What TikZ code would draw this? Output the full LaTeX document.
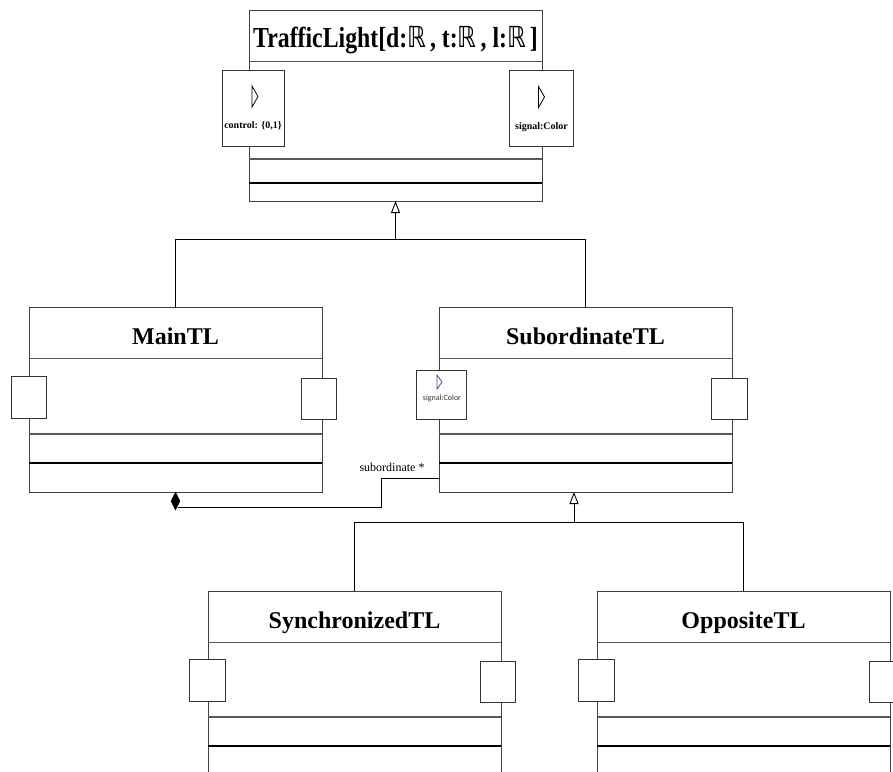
\documentclass[tikz,border=0pt]{standalone}
\usepackage{graphicx}
\usepackage{fontspec}
\setmainfont{Liberation Serif}
\newfontfamily\portsans{Carlito}
\newfontfamily\realsfont{DejaVu Sans}
\usetikzlibrary{arrows.meta,shapes.geometric,calc}

\tikzset{
  classbox/.style={draw=black!75, line width=1pt, fill=white, inner sep=0pt, outer sep=0pt, minimum width=293pt},
  titlesep/.style={draw=black!65, line width=1pt},
  midsep/.style={draw=black!65, line width=1.4pt},
  boldsep/.style={draw=black, line width=2pt},
  classtitle/.style={font=\bfseries\fontsize{24}{24}\selectfont, inner sep=0pt, anchor=base},
  port/.style={draw=black!80, line width=1pt, fill=white, inner sep=0pt, outer sep=0pt},
  porttri/.style={draw=black, line width=0.8pt, fill=white, line join=miter},
  subtri/.style={draw=blue!45!black!70, line width=0.8pt, fill=white},
  portlabel/.style={font=\bfseries\fontsize{10}{10}\selectfont, inner sep=0pt},
  sublabel/.style={font=\portsans\fontsize{8}{8}\selectfont, text=black!80, inner sep=0pt},
  gen/.style={draw=black, line width=0.9pt, -{Triangle[open, length=12pt, width=9pt]}},
  assoc/.style={draw=black, line width=0.9pt},
}

% the set of reals in the parameter list
\newcommand\reals{{\realsfont\mdseries ℝ}}

% class box: name, left, top, height, offset of middle separator, offset of bold separator, title
\newcommand\umlclass[7]{%
  \node[classbox, minimum height=#4pt, anchor=north west] (#1) at (#2,#3) {};
  \draw[titlesep] ([yshift=-51pt]#1.north west) -- ([yshift=-51pt]#1.north east);
  \draw[midsep] ([yshift=-#5pt]#1.north west) -- ([yshift=-#5pt]#1.north east);
  \draw[boldsep] ([yshift=-#6pt]#1.north west) -- ([yshift=-#6pt]#1.north east);
  \node[classtitle] (#1-title) at ([yshift=-37pt]#1.north) {#7};
}

\begin{document}
\begin{tikzpicture}[x=1pt, y=-1pt]
  \clip (0,0) rectangle (893,771);
  \fill[white] (0,0) rectangle (893,771);

  % classes
  \umlclass{tl}{249}{10}{191}{149}{173}{\fontsize{29}{29}\selectfont\scalebox{0.82}[1]{TrafficLight[d:\reals\,, t:\reals\,, l:\reals\,]}}
  \umlclass{main}{29}{307}{185}{127}{156}{MainTL}
  \umlclass{sub}{439}{307}{185}{127}{156}{SubordinateTL}
  \umlclass{synch}{208}{591}{185}{126}{155}{SynchronizedTL}
  \umlclass{opp}{597}{591}{185}{126}{155}{OppositeTL}

  % ports of TrafficLight
  \node[port, minimum width=62pt, minimum height=76pt] (tl-in) at (253,108) {};
  \draw[porttri] ([shift={(-1,-22)}]tl-in.center) -- ++(0,21) -- ++(6,-10.5) -- cycle;
  \node[portlabel] (tl-in-label) at (253,126) {control: \{0,1\}};
  \node[port, minimum width=64pt, minimum height=76pt] (tl-out) at (541.5,108.5) {};
  \draw[porttri] ([shift={(-3,-22)}]tl-out.center) -- ++(0,21) -- ++(6,-10.5) -- cycle;
  \node[portlabel] (tl-out-label) at (541.5,127) {signal:Color};

  % ports of MainTL
  \node[port, minimum width=35pt, minimum height=42pt] (main-in) at (28.5,397) {};
  \node[port, minimum width=35pt, minimum height=41pt] (main-out) at (318.5,398.5) {};

  % ports of SubordinateTL
  \node[port, minimum width=50pt, minimum height=49pt] (sub-in) at (441,394.5) {};
  \draw[subtri] ([shift={(-4,-19.5)}]sub-in.center) -- ++(0,14) -- ++(5,-7) -- cycle;
  \node[sublabel] (sub-in-label) at (442,398) {signal:Color};
  \node[port, minimum width=36pt, minimum height=41pt] (sub-out) at (729,398.5) {};

  % ports of SynchronizedTL
  \node[port, minimum width=36pt, minimum height=42pt] (synch-in) at (207,680) {};
  \node[port, minimum width=35pt, minimum height=41pt] (synch-out) at (497.5,681.5) {};

  % ports of OppositeTL
  \node[port, minimum width=36pt, minimum height=42pt] (opp-in) at (596,680) {};
  \node[port, minimum width=35pt, minimum height=41pt] (opp-out) at (886.5,681.5) {};

  % generalisation to TrafficLight
  \coordinate (j1) at (395.5,239);
  \draw[gen] (main.north) |- (j1) -- (tl.south);
  \draw[assoc] (sub.north) |- (j1);

  % generalisation to SubordinateTL
  \coordinate (j2) at (574,522);
  \draw[gen] (synch.north) |- (j2) -- (j2 |- sub.south);
  \draw[assoc] (opp.north) |- (j2);

  % composition MainTL <>-- SubordinateTL
  \node[diamond, draw=black, fill=black, minimum width=9pt, minimum height=18pt,
        inner sep=0pt, outer sep=0pt, anchor=north] (comp) at (main.south) {};
  \coordinate (cs) at ([yshift=14pt]sub.south west);
  \coordinate (bend) at (381,507);
  \draw[assoc] (cs) -| (bend) -- (bend -| comp.south east);
  \node[font=\fontsize{12}{12}\selectfont, inner sep=0pt] (comp-label) at (392,467) {subordinate *};
\end{tikzpicture}
\end{document}
